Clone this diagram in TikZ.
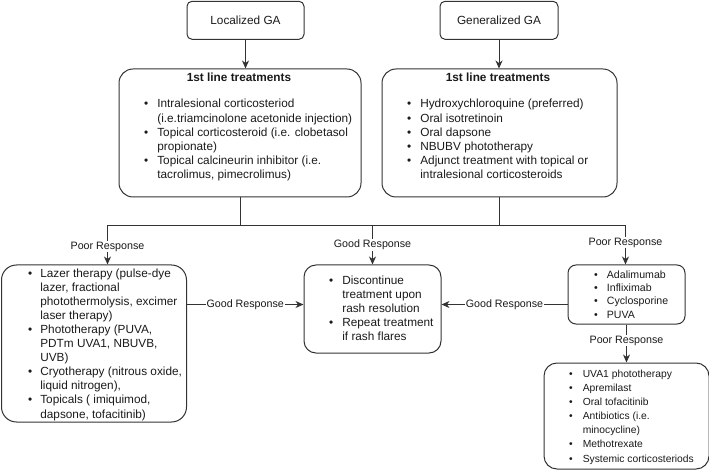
\documentclass[tikz,border=0pt]{standalone}
\usepackage{fontspec}
\setmainfont{Liberation Sans}
\usetikzlibrary{arrows.meta}
\definecolor{ln}{HTML}{333333}
\definecolor{tx}{HTML}{1A1A1A}
\begin{document}
\begin{tikzpicture}[x=1pt,y=-1pt,
  box/.style={draw=ln,line width=1pt,rounded corners=#1,inner sep=0pt,anchor=north west,text=tx,
    font=\fontsize{11.8}{14}\selectfont},
  lst/.style={inner sep=0pt,anchor=base west,text=tx,font=\fontsize{#1}{14.1}\selectfont},
  ttl/.style={inner sep=0pt,anchor=base,text=tx,font=\fontsize{11.8}{14}\selectfont\bfseries},
  con/.style={draw=ln,line width=1pt},
  arr/.style={con,-{Stealth[length=8pt,width=7pt,inset=2.5pt]}},
  lbl/.style={fill=white,inner sep=1pt,text=tx,font=\fontsize{10.7}{12}\selectfont},
]
\useasboundingbox (0,0) rectangle (709,470);

% top boxes
\node[box=5pt,minimum width=117pt,minimum height=38pt] (lga) at (186.5,0.8) {Localized GA};
\node[box=5pt,minimum width=118pt,minimum height=38pt] (gga) at (439.5,0.8) {Generalized GA};

% first line boxes
\node[box=14pt,minimum width=242pt,minimum height=128pt] (l1) at (118.5,68.5) {};
\node[ttl] (l1t) at (239,82) {1st line treatments};
\node[lst=11.8] (l1l) at (144,108) {\begin{tabular}[t]{@{}l@{\hspace{9pt}}l@{}}
\textbullet & Intralesional corticosteriod\\
 & (i.e.triamcinolone acetonide injection)\\
\textbullet & Topical corticosteroid (i.e. clobetasol\\
 & propionate)\\
\textbullet & Topical calcineurin inhibitor (i.e.\\
 & tacrolimus, pimecrolimus)
\end{tabular}};

\node[box=14pt,minimum width=235pt,minimum height=128pt] (g1) at (381.5,68.5) {};
\node[ttl] (g1t) at (498,82) {1st line treatments};
\node[lst=11.8] (g1l) at (407,108) {\begin{tabular}[t]{@{}l@{\hspace{9pt}}l@{}}
\textbullet & Hydroxychloroquine (preferred)\\
\textbullet & Oral isotretinoin\\
\textbullet & Oral dapsone\\
\textbullet & NBUBV phototherapy\\
\textbullet & Adjunct treatment with topical or\\
 & intralesional corticosteroids
\end{tabular}};

% bottom boxes
\node[box=15pt,minimum width=185pt,minimum height=157pt] (lb) at (1,264.5) {};
\node[lst=11.8] (lbl) at (28,277) {\begin{tabular}[t]{@{}l@{\hspace{8pt}}l@{}}
\textbullet & Lazer therapy (pulse-dye\\
 & lazer, fractional\\
 & photothermolysis, excimer\\
 & laser therapy)\\
\textbullet & Phototherapy (PUVA,\\
 & PDTm UVA1, NBUVB,\\
 & UVB)\\
\textbullet & Cryotherapy (nitrous oxide,\\
 & liquid nitrogen),\\
\textbullet & Topicals ( imiquimod,\\
 & dapsone, tofacitinib)
\end{tabular}};

\node[box=12pt,minimum width=137pt,minimum height=88pt] (mid) at (303.5,264.5) {};
\node[lst=11.8] (midl) at (329,284) {\begin{tabular}[t]{@{}l@{\hspace{9pt}}l@{}}
\textbullet & Discontinue\\
 & treatment upon\\
 & rash resolution\\
\textbullet & Repeat treatment\\
 & if rash flares
\end{tabular}};

\node[box=8pt,minimum width=117pt,minimum height=59pt] (rb) at (567.5,264.5) {};
\node[lst=10.6,font=\fontsize{10.6}{13.4}\selectfont] (rbl) at (594,278) {\begin{tabular}[t]{@{}l@{\hspace{9pt}}l@{}}
\textbullet & Adalimumab\\
\textbullet & Infliximab\\
\textbullet & Cyclosporine\\
\textbullet & PUVA
\end{tabular}};

\node[box=13pt,minimum width=165pt,minimum height=106pt] (rbb) at (543.5,362.5) {};
\node[lst=10.3,font=\fontsize{10.3}{14.17}\selectfont] (rbbl) at (569,377) {\begin{tabular}[t]{@{}l@{\hspace{10pt}}l@{}}
\textbullet & UVA1 phototherapy\\
\textbullet & Apremilast\\
\textbullet & Oral tofacitinib\\
\textbullet & Antibiotics (i.e.\\
 & minocycline)\\
\textbullet & Methotrexate\\
\textbullet & Systemic corticosteriods
\end{tabular}};

% connectors
\draw[arr] (lga.south) -- (lga.south |- l1.north);
\draw[arr] (gga.south) -- (gga.south |- g1.north);

\coordinate (hl) at (107.5,225.5);
\coordinate (hm) at (372.5,225.5);
\coordinate (hr) at (625.5,225.5);
\coordinate (gy) at (0,304.5);

\draw[con] (l1.south) -- (l1.south |- hl);
\draw[con] (g1.south) -- (g1.south |- hl);
\draw[con] (hl) -- (hr);
\draw[arr] (hl) -- node[lbl,pos=0.54] {Poor Response} (hl |- lb.north);
\draw[arr] (hm) -- node[lbl,pos=0.49] {Good Response} (hm |- mid.north);
\draw[arr] (hr) -- node[lbl,pos=0.44] {Poor Response} (hr |- rb.north);
\draw[arr] (lb.east |- gy) -- node[lbl] {Good Response} (mid.west |- gy);
\draw[arr] (rb.west |- gy) -- node[lbl] {Good Response} (mid.east |- gy);
\draw[arr] (rb.south) -- node[lbl,pos=0.42] {Poor Response} (rb.south |- rbb.north);
\end{tikzpicture}
\end{document}
